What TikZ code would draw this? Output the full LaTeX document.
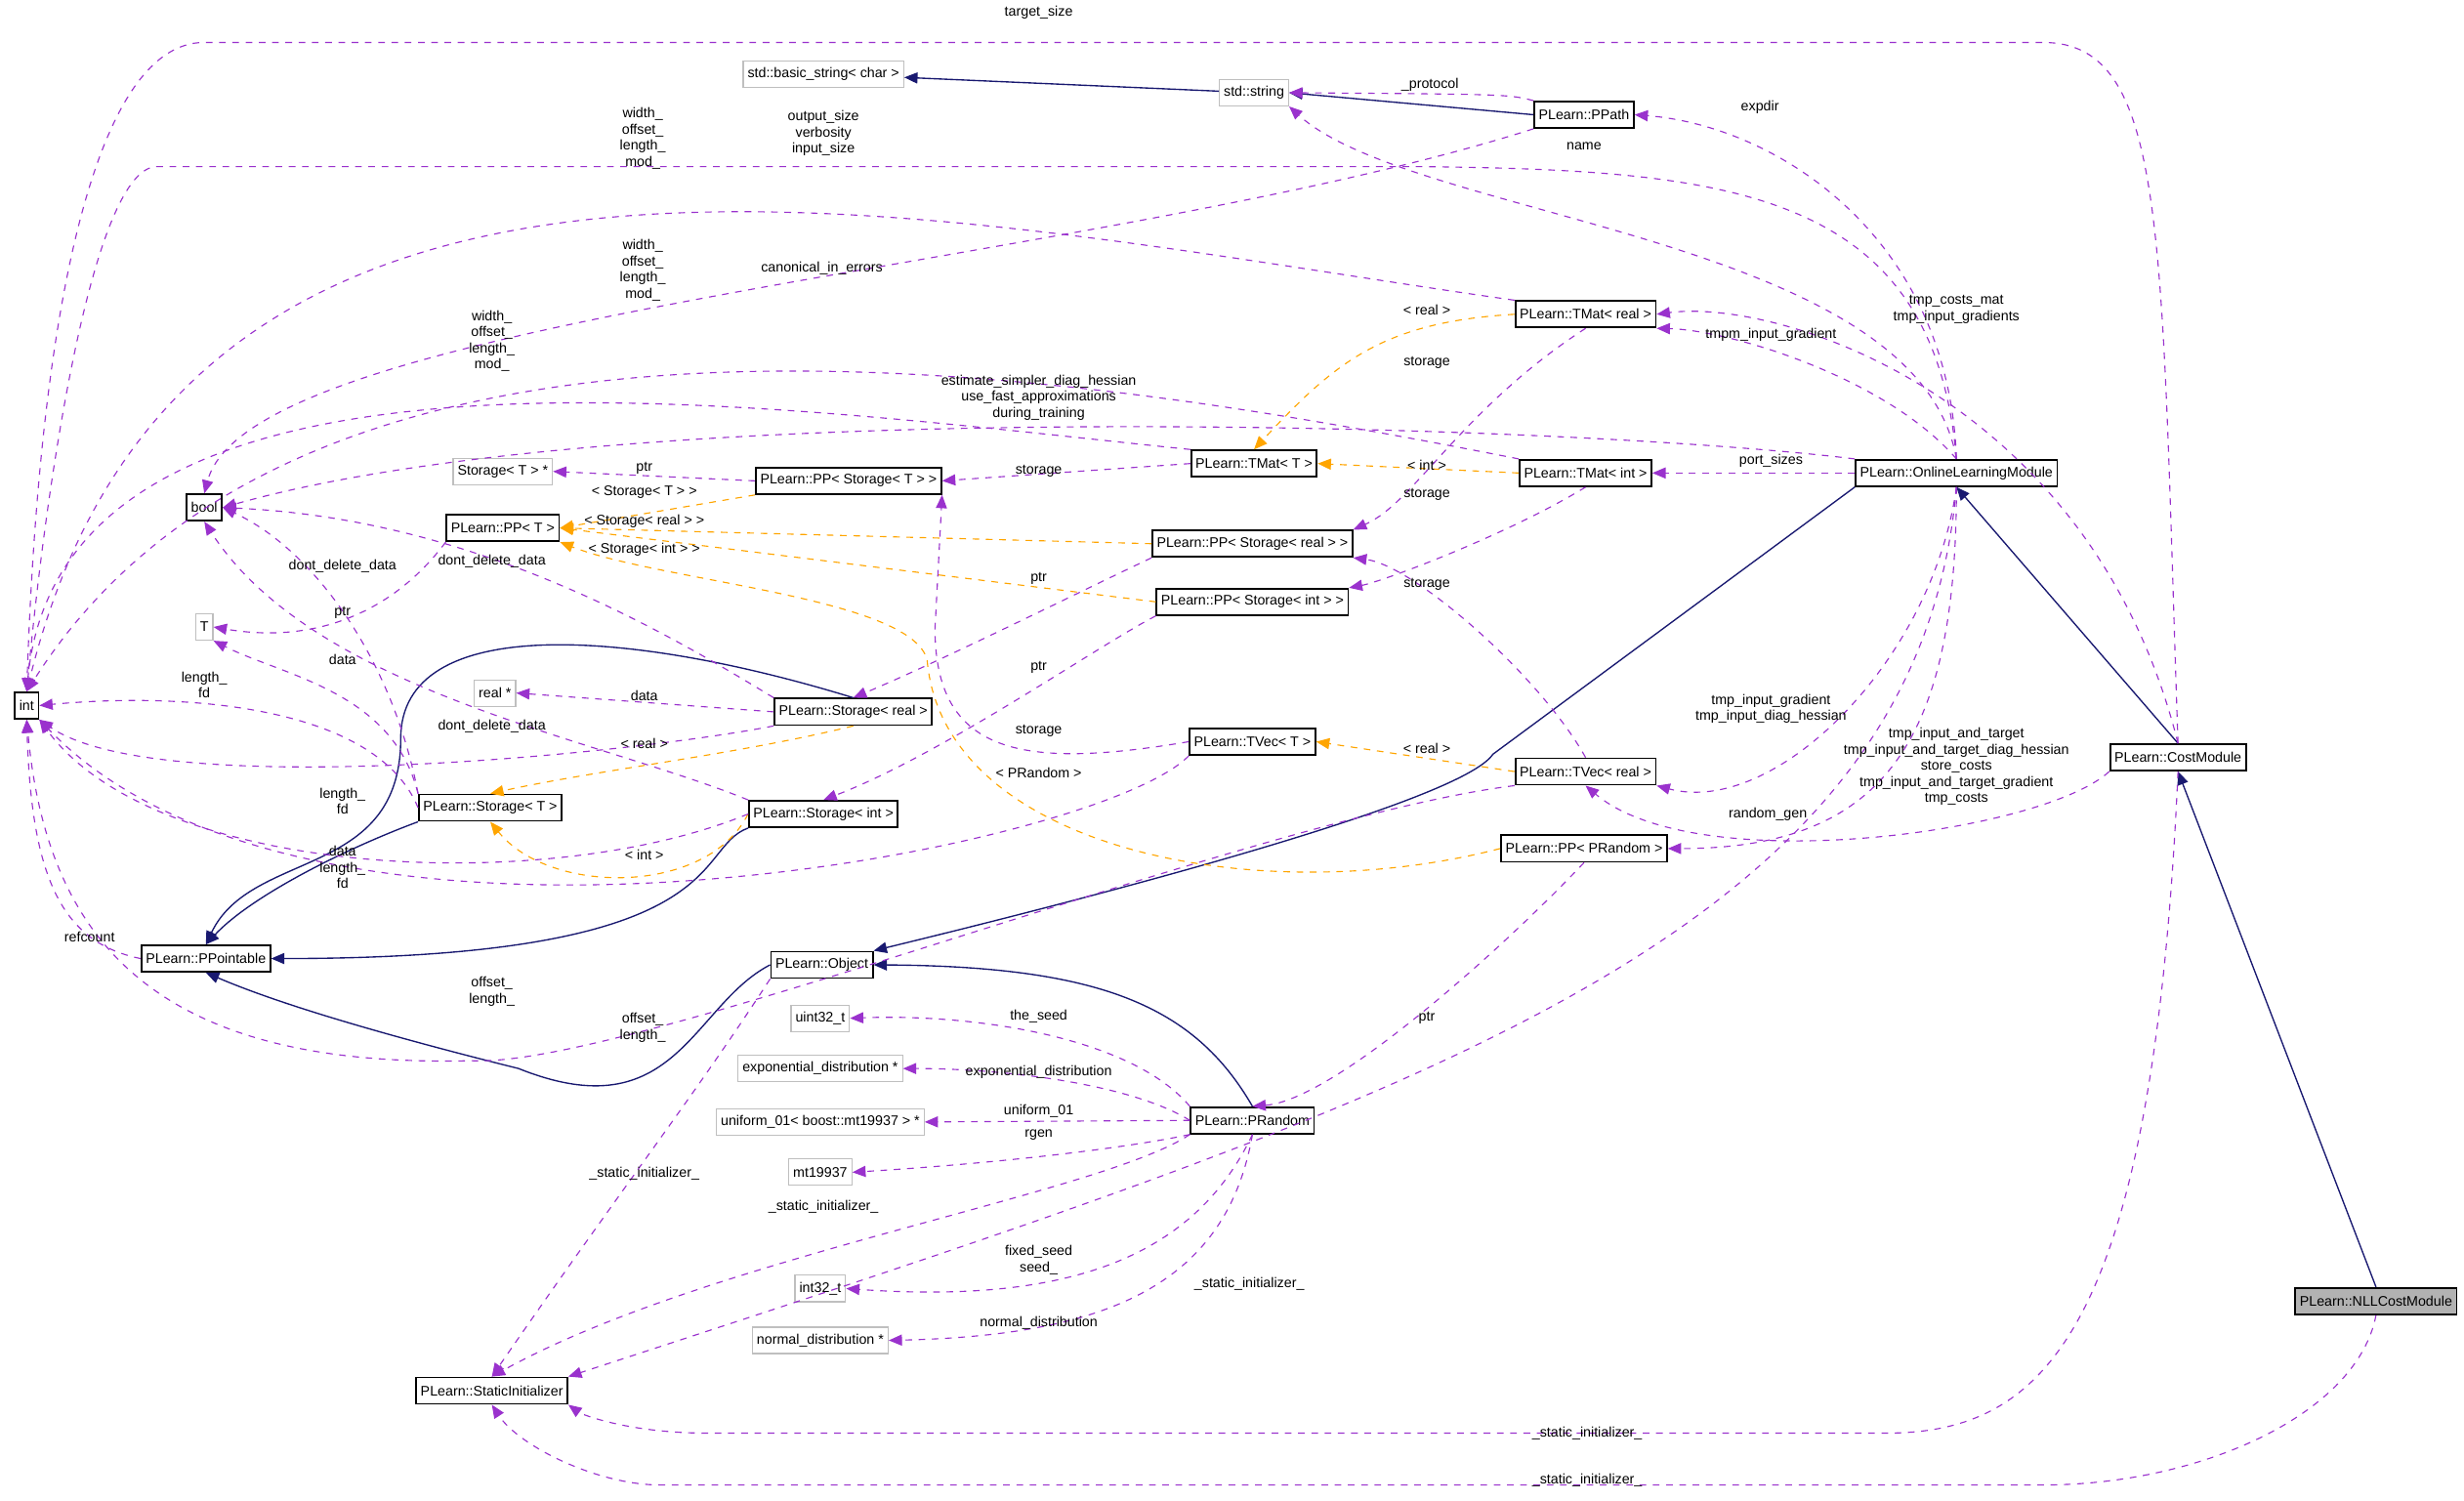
\documentclass[tikz,border=0pt]{standalone}
\usepackage{fontspec}
\setmainfont{Liberation Sans}
\usetikzlibrary{arrows.meta}
\definecolor{memcol}{HTML}{9A32CD}
\definecolor{tplcol}{HTML}{FFA500}
\definecolor{inhcol}{HTML}{191970}
\tikzset{
  cls/.style={draw,line width=0.8pt,inner sep=2pt,minimum height=0.42cm,font=\fontsize{6.3}{7}\selectfont},
  ext/.style={cls,draw=black!25,line width=0.5pt},
  mem/.style={dashed,draw=memcol,-{Triangle[length=6pt,width=5pt]},line width=0.5pt},
  tpl/.style={dashed,draw=tplcol,-{Triangle[length=6pt,width=5pt]},line width=0.5pt},
  inh/.style={draw=inhcol,-{Triangle[length=6pt,width=5pt]},line width=0.6pt},
  lab/.style={font=\fontsize{6.3}{7.3}\selectfont,align=center,inner sep=0pt}
}
\begin{document}
\begin{tikzpicture}[x=0.025cm,y=-0.025cm]
\useasboundingbox (0,0) rectangle (1568,955);
% nodes
\node[cls] (int) at (17,449) {int};
\node[cls] (bool) at (130,323) {bool};
\node[ext] (T) at (130,399) {T};
\node[ext] (realp) at (315,441) {real *};
\node[ext] (storTp) at (320,300) {Storage< T > *};
\node[cls] (ppT) at (320,336) {PLearn::PP< T >};
\node[cls] (ppsT) at (540,306) {PLearn::PP< Storage< T > >};
\node[cls] (stReal) at (543,453) {PLearn::Storage< real >};
\node[cls] (stT) at (312,514) {PLearn::Storage< T >};
\node[cls] (stInt) at (524,518) {PLearn::Storage< int >};
\node[cls] (ppointable) at (131,610) {PLearn::PPointable};
\node[ext] (bstr) at (524,47) {std::basic\_string< char >};
\node[ext] (str) at (798,59) {std::string};
\node[cls] (ppath) at (1008,73) {PLearn::PPath};
\node[cls] (tmReal) at (1009,200) {PLearn::TMat< real >};
\node[cls] (tmT) at (798,295) {PLearn::TMat< T >};
\node[cls] (tmInt) at (1009,301) {PLearn::TMat< int >};
\node[cls] (ppsReal) at (797,346) {PLearn::PP< Storage< real > >};
\node[cls] (ppsInt) at (797,383) {PLearn::PP< Storage< int > >};
\node[cls] (olm) at (1245,301) {PLearn::OnlineLearningModule};
\node[cls] (tvT) at (797,472) {PLearn::TVec< T >};
\node[cls] (tvReal) at (1009,491) {PLearn::TVec< real >};
\node[cls] (ppRand) at (1008,540) {PLearn::PP< PRandom >};
\node[cls] (cost) at (1386,482) {PLearn::CostModule};
\node[cls] (object) at (523,614) {PLearn::Object};
\node[ext] (u32) at (522,648) {uint32\_t};
\node[ext] (expd) at (522,680) {exponential\_distribution *};
\node[ext] (unif) at (522,714) {uniform\_01< boost::mt19937 > *};
\node[ext] (mt) at (522,746) {mt19937};
\node[cls] (prand) at (797,713) {PLearn::PRandom};
\node[ext] (i32) at (522,820) {int32\_t};
\node[ext] (normd) at (522,853) {normal\_distribution *};
\node[cls] (sinit) at (313,885) {PLearn::StaticInitializer};
\node[cls,fill=black!30] (nll) at (1512,828) {PLearn::NLLCostModule};

% inheritance
\draw[inh] (str) -- (bstr);
\draw[inh] (ppath.west) -- (str.east);
\draw[inh] (stReal.north) .. controls (400,400) and (255,390) .. (255,470) .. controls (255,560) and (160,540) .. (ppointable.north);
\draw[inh] (stT.south west) .. controls (220,540) and (160,570) .. (ppointable.north);
\draw[inh] (stInt.south west) .. controls (440,540) and (470,610) .. (ppointable.east);
\draw[inh] (object.west) .. controls (440,640) and (430,720) .. (330,680) .. controls (250,660) and (180,640) .. (ppointable.south);
\draw[inh] (prand.north) .. controls (760,640) and (700,615) .. (object.east);
\draw[inh] (olm.south west) -- (950,480) .. controls (930,510) and (700,570) .. (object.north east);
\draw[inh] (cost.north) -- (olm.south);
\draw[inh] (nll.north) -- (cost.south);

% template instances
\draw[tpl] (tmReal.west) .. controls (880,205) and (850,230) .. (tmT.north);
\draw[tpl] (tmInt.west) -- (tmT.east);
\draw[tpl] (ppsT.south west) -- (ppT.east);
\draw[tpl] (ppsReal.west) -- (ppT.east);
\draw[tpl] (ppsInt.west) -- (ppT.east);
\draw[tpl] (stReal.south) .. controls (470,480) and (380,490) .. (stT.north);
\draw[tpl] (stInt.west) .. controls (450,570) and (350,570) .. (stT.south);
\draw[tpl] (tvReal.west) -- (tvT.east);
\draw[tpl] (ppRand.west) .. controls (800,580) and (600,540) .. (590,420) .. controls (580,380) and (420,370) .. (ppT.south east);

% members
\draw[mem] (cost.north) .. controls (1375,150) and (1380,27) .. (1300,27) -- (130,27) .. controls (60,27) and (25,200) .. (int.north);
\draw[mem] (ppath.north west) .. controls (960,60) .. (str.east);
\draw[mem] (olm.north) .. controls (1240,150) and (1130,80) .. (ppath.east);
\draw[mem] (olm.north) .. controls (1220,150) and (900,140) .. (str.south east);
\draw[mem] (olm.north) .. controls (1230,120) and (1100,108) .. (900,106) -- (100,106) .. controls (60,106) and (30,300) .. (int.north);
\draw[mem] (tmReal.north west) .. controls (600,140) and (120,20) .. (int.north);
\draw[mem] (tmInt.north west) .. controls (700,240) and (200,150) .. (int.north);
\draw[mem] (tmT.north west) .. controls (500,260) and (40,190) .. (int.north);
\draw[mem] (ppath.south west) .. controls (700,170) and (160,200) .. (bool.north);
\draw[mem] (olm.north west) .. controls (1000,270) and (400,250) .. (bool.east);
\draw[mem] (cost.north) .. controls (1330,250) and (1130,190) .. (tmReal.east);
\draw[mem] (olm.north) .. controls (1200,240) and (1100,210) .. (tmReal.south east);
\draw[mem] (olm.west) -- (tmInt.east);
\draw[mem] (olm.south) .. controls (1230,420) and (1130,520) .. (tvReal.south east);
\draw[mem] (olm.south) .. controls (1245,470) and (1200,540) .. (ppRand.east);
\draw[mem] (cost.south west) .. controls (1300,530) and (1080,560) .. (tvReal.south);
\draw[mem] (olm.south) .. controls (1220,600) and (900,700) .. (sinit.north east);
\draw[mem] (cost.south) .. controls (1370,850) and (1300,912) .. (1200,912) -- (450,912) .. controls (400,912) and (370,900) .. (sinit.south east);
\draw[mem] (nll.south) .. controls (1500,900) and (1400,945) .. (1300,945) -- (420,945) .. controls (380,945) and (330,920) .. (sinit.south);
\draw[mem] (prand.south west) .. controls (700,760) and (450,800) .. (sinit.north);
\draw[mem] (object.south west) .. controls (440,700) and (400,750) .. (sinit.north);
\draw[mem] (prand.north west) .. controls (720,660) and (620,645) .. (u32.east);
\draw[mem] (prand.west) .. controls (720,690) and (640,680) .. (expd.east);
\draw[mem] (prand.west) -- (unif.east);
\draw[mem] (prand.south west) .. controls (720,730) and (640,740) .. (mt.east);
\draw[mem] (prand.south) .. controls (760,800) and (680,830) .. (i32.east);
\draw[mem] (prand.south) .. controls (780,820) and (700,850) .. (normd.east);
\draw[mem] (ppRand.south) .. controls (960,600) and (850,700) .. (prand.north);
\draw[mem] (tvReal.north) .. controls (980,430) and (900,360) .. (ppsReal.south east);
\draw[mem] (tmReal.south) .. controls (930,260) and (900,320) .. (ppsReal.north east);
\draw[mem] (tmInt.south) .. controls (960,340) and (880,370) .. (ppsInt.north east);
\draw[mem] (tmT.west) -- (ppsT.east);
\draw[mem] (tvT.west) .. controls (650,490) and (595,480) .. (595,400) -- (ppsT.south east);
\draw[mem] (ppsReal.south west) .. controls (680,380) and (600,420) .. (stReal.north);
\draw[mem] (ppsInt.south west) .. controls (700,410) and (600,480) .. (stInt.north);
\draw[mem] (ppsT.west) -- (storTp.east);
\draw[mem] (ppT.south west) .. controls (250,390) and (200,410) .. (T.east);
\draw[mem] (stT.north west) .. controls (250,440) and (180,430) .. (T.south east);
\draw[mem] (stReal.west) -- (realp.east);
\draw[mem] (stT.north west) .. controls (250,420) and (200,350) .. (bool.east);
\draw[mem] (stReal.north west) .. controls (420,400) and (300,330) .. (bool.east);
\draw[mem] (stInt.north west) .. controls (380,470) and (200,440) .. (bool.south);
\draw[mem] (stT.west) .. controls (240,450) and (120,440) .. (int.east);
\draw[mem] (stReal.south west) .. controls (400,480) and (100,510) .. (int.south east);
\draw[mem] (stInt.west) .. controls (350,570) and (100,560) .. (int.south east);
\draw[mem] (ppointable.west) .. controls (40,600) and (20,560) .. (int.south);
\draw[mem] (tvT.south west) .. controls (700,540) and (200,640) .. (int.south east);
\draw[mem] (tvReal.south west) .. controls (800,520) and (400,680) .. (300,675) .. controls (100,680) and (30,600) .. (int.south);

% labels
\node[lab] (lbTarget) at (661,8) {target\_size};
\node[lab] (lbProtocol) at (910,54) {\_protocol};
\node[lab] (lbExpdir) at (1120,68) {expdir};
\node[lab] (lbName) at (1008,93) {name};
\node[lab] (lbOut) at (524,85) {output\_size\\verbosity\\input\_size};
\node[lab] (lbW1) at (409,88) {width\_\\offset\_\\length\_\\mod\_};
\node[lab] (lbW2) at (409,172) {width\_\\offset\_\\length\_\\mod\_};
\node[lab] (lbW3) at (313,217) {width\_\\offset\_\\length\_\\mod\_};
\node[lab] (lbCanon) at (523,171) {canonical\_in\_errors};
\node[lab] (lbEst) at (661,253) {estimate\_simpler\_diag\_hessian\\use\_fast\_approximations\\during\_training};
\node[lab] (lbCostMat) at (1245,197) {tmp\_costs\_mat\\tmp\_input\_gradients};
\node[lab] (lbTmpm) at (1127,213) {tmpm\_input\_gradient};
\node[lab] (lbPort) at (1127,293) {port\_sizes};
\node[lab] (lbTig) at (1127,451) {tmp\_input\_gradient\\tmp\_input\_diag\_hessian};
\node[lab] (lbRg) at (1125,518) {random\_gen};
\node[lab] (lbCostVec) at (1245,488) {tmp\_input\_and\_target\\tmp\_input\_and\_target\_diag\_hessian\\store\_costs\\tmp\_input\_and\_target\_gradient\\tmp\_costs};
\node[lab] (lbSi1) at (795,817) {\_static\_initializer\_};
\node[lab] (lbSi2) at (1010,912) {\_static\_initializer\_};
\node[lab] (lbSi3) at (1010,942) {\_static\_initializer\_};
\node[lab] (lbSi4) at (524,768) {\_static\_initializer\_};
\node[lab] (lbSi5) at (410,747) {\_static\_initializer\_};
\node[lab] (lbSeed) at (661,647) {the\_seed};
\node[lab] (lbExp) at (661,682) {exponential\_distribution};
\node[lab] (lbUnif) at (661,707) {uniform\_01};
\node[lab] (lbRgen) at (661,722) {rgen};
\node[lab] (lbFixed) at (661,802) {fixed\_seed\\seed\_};
\node[lab] (lbNorm) at (661,842) {normal\_distribution};
\node[lab] (lbPtrR) at (908,648) {ptr};
\node[lab] (lbStV) at (908,372) {storage};
\node[lab] (lbStR) at (908,231) {storage};
\node[lab] (lbStI) at (908,315) {storage};
\node[lab] (lbStT) at (661,300) {storage};
\node[lab] (lbStTv) at (661,465) {storage};
\node[lab] (lbPtrSR) at (661,368) {ptr};
\node[lab] (lbPtrSI) at (661,425) {ptr};
\node[lab] (lbPtrST) at (410,298) {ptr};
\node[lab] (lbPtrT) at (218,390) {ptr};
\node[lab] (lbDataT) at (218,420) {data};
\node[lab] (lbDataR) at (410,443) {data};
\node[lab] (lbDdT) at (218,360) {dont\_delete\_data};
\node[lab] (lbDdR) at (313,357) {dont\_delete\_data};
\node[lab] (lbDdI) at (313,462) {dont\_delete\_data};
\node[lab] (lbLfT) at (130,436) {length\_\\fd};
\node[lab] (lbLfR) at (218,510) {length\_\\fd};
\node[lab] (lbLfI) at (218,552) {data\\length\_\\fd};
\node[lab] (lbRef) at (57,596) {refcount};
\node[lab] (lbOlT) at (313,631) {offset\_\\length\_};
\node[lab] (lbOlR) at (409,654) {offset\_\\length\_};
\node[lab] (lbTR) at (908,197) {< real >};
\node[lab] (lbTI) at (908,296) {< int >};
\node[lab] (lbPST) at (410,313) {< Storage< T > >};
\node[lab] (lbPSR) at (410,332) {< Storage< real > >};
\node[lab] (lbPSI) at (410,350) {< Storage< int > >};
\node[lab] (lbSR) at (410,473) {< real >};
\node[lab] (lbSI) at (410,544) {< int >};
\node[lab] (lbVR) at (908,476) {< real >};
\node[lab] (lbPR) at (661,492) {< PRandom >};
\end{tikzpicture}
\end{document}
